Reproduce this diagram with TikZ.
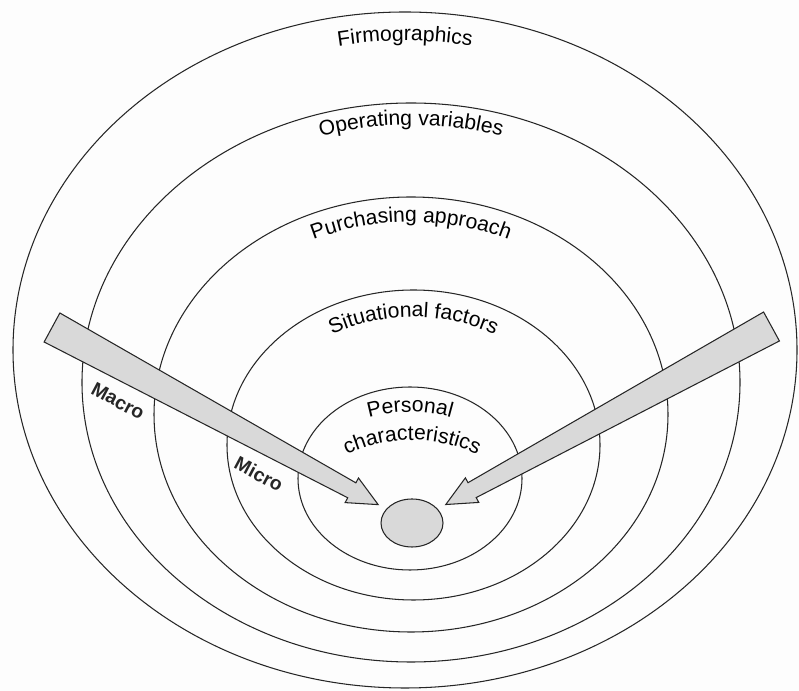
\documentclass[tikz,border=0pt]{standalone}
\usepackage{fontspec}
\setmainfont{Liberation Sans}
\usetikzlibrary{
  calc,
  decorations.text,
  shapes.geometric
}
\definecolor{ink}{HTML}{262626}
\definecolor{paper}{HTML}{FDFDFD}
\definecolor{shade}{HTML}{D9D9D9}
\newcommand{\ringfont}{\fontsize{12pt}{14pt}\selectfont}
% tapered pointer from a tail coordinate towards a node
\newcommand{\bigarrow}[2]{%
  \coordinate (#1-tip) at ($(#2.center)!7.7mm!(#1)$);
  \coordinate (#1-neck) at ($(#1-tip)!6mm!(#1)$);
  \filldraw[pointer]
    ($(#1)!3.3mm!90:(#1-tip)$) --
    ($(#1-neck)!1.7mm!-90:(#1)$) --
    ($(#1-neck)!2.8mm!-90:(#1)$) --
    (#1-tip) --
    ($(#1-neck)!2.8mm!90:(#1)$) --
    ($(#1-neck)!1.7mm!90:(#1)$) --
    ($(#1)!3.3mm!-90:(#1-tip)$) -- cycle;
}
\tikzset{
  ring/.style={
    draw=ink,
    line width=0.6pt
  },
  core/.style={
    ellipse,
    draw=ink,
    fill=shade,
    line width=0.6pt,
    minimum width=12.4mm,
    minimum height=9.6mm,
    inner sep=0pt
  },
  pointer/.style={
    draw=ink,
    fill=shade,
    line width=0.6pt,
    line join=miter
  },
  levellabel/.style={
    font=\bfseries\fontsize{11pt}{13pt}\selectfont,
    text=ink,
    rotate=-28
  },
  arclabel/.style={
    decorate,
    decoration={
      text along path,
      text align=center,
      text={|\ringfont|#1}
    }
  }
}

\begin{document}
\begin{tikzpicture}[x=0.2mm, y=0.2mm]
  \useasboundingbox[fill=paper] (0,0) rectangle (799,691);

  \coordinate (firmo) at (405,341);
  \coordinate (oper) at (411,308.5);
  \coordinate (purch) at (411,276.5);
  \coordinate (situ) at (413.5,246);
  \coordinate (pers) at (410,212.5);

  \draw[ring] (firmo) ellipse [x radius=392, y radius=338];
  \draw[ring] (oper) ellipse [x radius=329, y radius=279.5];
  \draw[ring] (purch) ellipse [x radius=257, y radius=217.5];
  \draw[ring] (situ) ellipse [x radius=186.5, y radius=155];
  \draw[ring] (pers) ellipse [x radius=112, y radius=91.5];

  \path[arclabel={Firmographics}] (firmo) ++(110:363 and 309)
    arc[start angle=110, end angle=70, x radius=363, y radius=309];
  \path[arclabel={Operating variables}] (oper) ++(115:307 and 257.5)
    arc[start angle=115, end angle=65, x radius=307, y radius=257.5];
  \path[arclabel={Purchasing approach}] (purch) ++(125:232 and 192.5)
    arc[start angle=125, end angle=55, x radius=232, y radius=192.5];
  \path[arclabel={Situational factors}] (situ) ++(130:159.5 and 128)
    arc[start angle=130, end angle=50, x radius=159.5, y radius=128];
  \path[arclabel={Personal}] (410,129) ++(125:150)
    arc[start angle=125, end angle=55, radius=150];
  \path[arclabel={characteristics}] (412,101) ++(130:150)
    arc[start angle=130, end angle=50, radius=150];

  \node[core] (core) at (412,168) {};
  \coordinate (westtail) at (52,363.5);
  \coordinate (easttail) at (771.5,364.5);
  \bigarrow{westtail}{core}
  \bigarrow{easttail}{core}

  \node[levellabel] (macro) at (118,290) {Macro};
  \node[levellabel] (micro) at (259,217) {Micro};
\end{tikzpicture}
\end{document}
